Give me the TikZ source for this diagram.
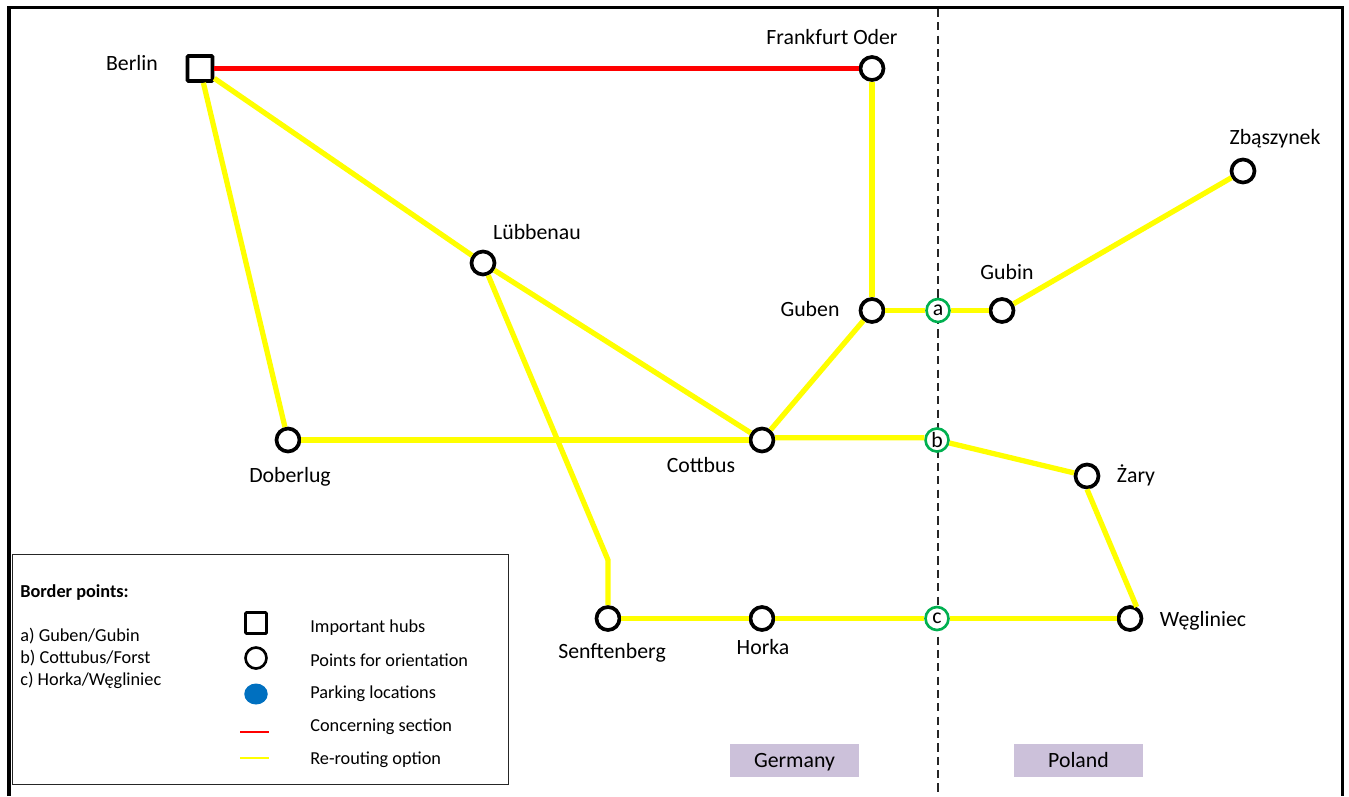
\documentclass[tikz,border=0pt]{standalone}
\usepackage{fontspec}
\setmainfont{Carlito}
\usetikzlibrary{positioning,shapes.geometric}

\begin{document}
\begin{tikzpicture}
[x=0.02cm,y=-0.02cm,
station/.style={circle,draw=black,fill=white,line width=2.1pt,inner sep=0pt,minimum size=0.46cm},
hub/.style={rectangle,rounded corners=0.5pt,draw=black,fill=white,line width=2.1pt,inner sep=0pt,minimum size=0.5cm},
crossing/.style={circle,draw=crossgreen,fill=white,line width=1.5pt,inner sep=0pt,minimum size=0.46cm,font=\fontsize{12.4}{14}\selectfont},
place/.style={inner sep=0pt,font=\fontsize{12.4}{14}\selectfont},
legend/.style={inner sep=0pt,anchor=west,font=\fontsize{10.4}{12}\selectfont},
country/.style={fill=countrybg,minimum width=2.58cm,minimum height=0.66cm,inner sep=0pt,text height=8.2pt,text depth=0pt,font=\fontsize{12.4}{14}\selectfont},
reroute/.style={draw=routeyellow,line width=3pt},
section/.style={draw=sectionred,line width=2.3pt}]

\definecolor{crossgreen}{HTML}{00B050}
\definecolor{countrybg}{HTML}{CCC1DA}
\definecolor{parkblue}{HTML}{0070C0}
\definecolor{routeyellow}{HTML}{FFFF00}
\definecolor{sectionred}{HTML}{FF0000}

\useasboundingbox (0,0) rectangle (1349,796);

% frame, open at the bottom
\coordinate (f1) at (9,796);
\coordinate (f2) at (9,7.5);
\coordinate (f3) at (1342.5,7.5);
\coordinate (f4) at (1342.5,796);
\draw [line width=1.9pt] (f1)--(f2)--(f3)--(f4);

% state border
\coordinate (top) at (938,9);
\coordinate (bot) at (938,796);
\draw [line width=0.7pt,black!85,dash pattern=on 4.6pt off 3pt] (top) -- (bot);

\node[hub] (berlin) at (200,68.5) {};
\node[station] (frankfurt) at (872,68.5) {};
\node[station] (zbaszynek) at (1243,171) {};
\node[station] (lubbenau) at (483,263) {};
\node[station] (guben) at (872,310.5) {};
\node[station] (gubin) at (1002,310.5) {};
\node[station] (doberlug) at (288,440) {};
\node[station] (cottbus) at (762,440) {};
\node[station] (zary) at (1087,476) {};
\node[station] (senftenberg) at (608,618.5) {};
\node[station] (horka) at (762,618.5) {};
\node[station] (wegliniec) at (1130,618.5) {};

\node[crossing] (a) at (938,310.5) {a};
\node[crossing] (b) at (937,440) {b};
\node[crossing] (c) at (937,618.5) {c};

\coordinate (bend) at (608,560);

\draw [section] (berlin) -- (frankfurt);
\draw [reroute] (berlin) -- (doberlug);
\draw [reroute] (berlin) -- (lubbenau);
\draw [reroute] (lubbenau) -- (cottbus);
\draw [reroute] (lubbenau) -- (bend) -- (senftenberg);
\draw [reroute] (doberlug) -- (cottbus);
\draw [reroute] (cottbus) -- (guben);
\draw [reroute] (frankfurt) -- (guben);
\draw [reroute] (guben) -- (a);
\draw [reroute] (a) -- (gubin);
\draw [reroute] (gubin) -- (zbaszynek);
\draw [reroute] (cottbus.10) -- (b.170);
\draw [reroute] (b) -- (zary);
\draw [reroute] (zary.south) -- (wegliniec.60);
\draw [reroute] (senftenberg) -- (horka);
\draw [reroute] (horka) -- (c);
\draw [reroute] (c) -- (wegliniec);

\node[place] (L1) at (132,63.5) {Berlin};
\node[place] (L2) at (832,37.5) {Frankfurt Oder};
\node[place] (L3) at (1275,139) {Zbąszynek};
\node[place] (L4) at (537,232.5) {Lübbenau};
\node[place] (L5) at (810,309.5) {Guben};
\node[place] (L6) at (1007,272) {Gubin};
\node[place] (L7) at (290,477) {Doberlug};
\node[place] (L8) at (701,465.5) {Cottbus};
\node[place] (L9) at (1136,475.5) {Żary};
\node[place] (L10) at (612,653) {Senftenberg};
\node[place] (L11) at (763,646.5) {Horka};
\node[place] (L12) at (1203,620.5) {Węgliniec};

\node[country] (germany) at (794.5,760.5) {Germany};
\node[country] (poland) at (1078.5,760.5) {Poland};

% legend
\node[draw=black!85,line width=0.6pt,fill=white,minimum width=9.93cm,minimum height=4.59cm,inner sep=0pt] (box) at (260.75,669.5) {};

\node[legend] (B0) at (20,593) {\textbf{Border points:}};
\node[legend] (B1) at (20,636) {a) Guben/Gubin};
\node[legend] (B2) at (20,658) {b) Cottubus/Forst};
\node[legend] (B3) at (20,680) {c) Horka/Węgliniec};

\node[hub,line width=1.5pt,minimum size=0.42cm] (K1) at (256,623) {};
\node[station,line width=1.5pt,minimum size=0.42cm] (K2) at (256,658) {};
\node[ellipse,fill=parkblue,inner sep=0pt,minimum width=0.47cm,minimum height=0.42cm] (K3) at (256,694) {};
\coordinate (K4a) at (240,732);
\coordinate (K4b) at (269,732);
\coordinate (K5a) at (240,758);
\coordinate (K5b) at (269,758);
\draw [sectionred,line width=1.4pt] (K4a) -- (K4b);
\draw [routeyellow,line width=1.4pt] (K5a) -- (K5b);

\node[legend] (T1) at (310,628) {Important hubs};
\node[legend] (T2) at (310,660) {Points for orientation};
\node[legend] (T3) at (310,694) {Parking locations};
\node[legend] (T4) at (310,727) {Concerning section};
\node[legend] (T5) at (310,760) {Re-routing option};
\end{tikzpicture}
\end{document}
